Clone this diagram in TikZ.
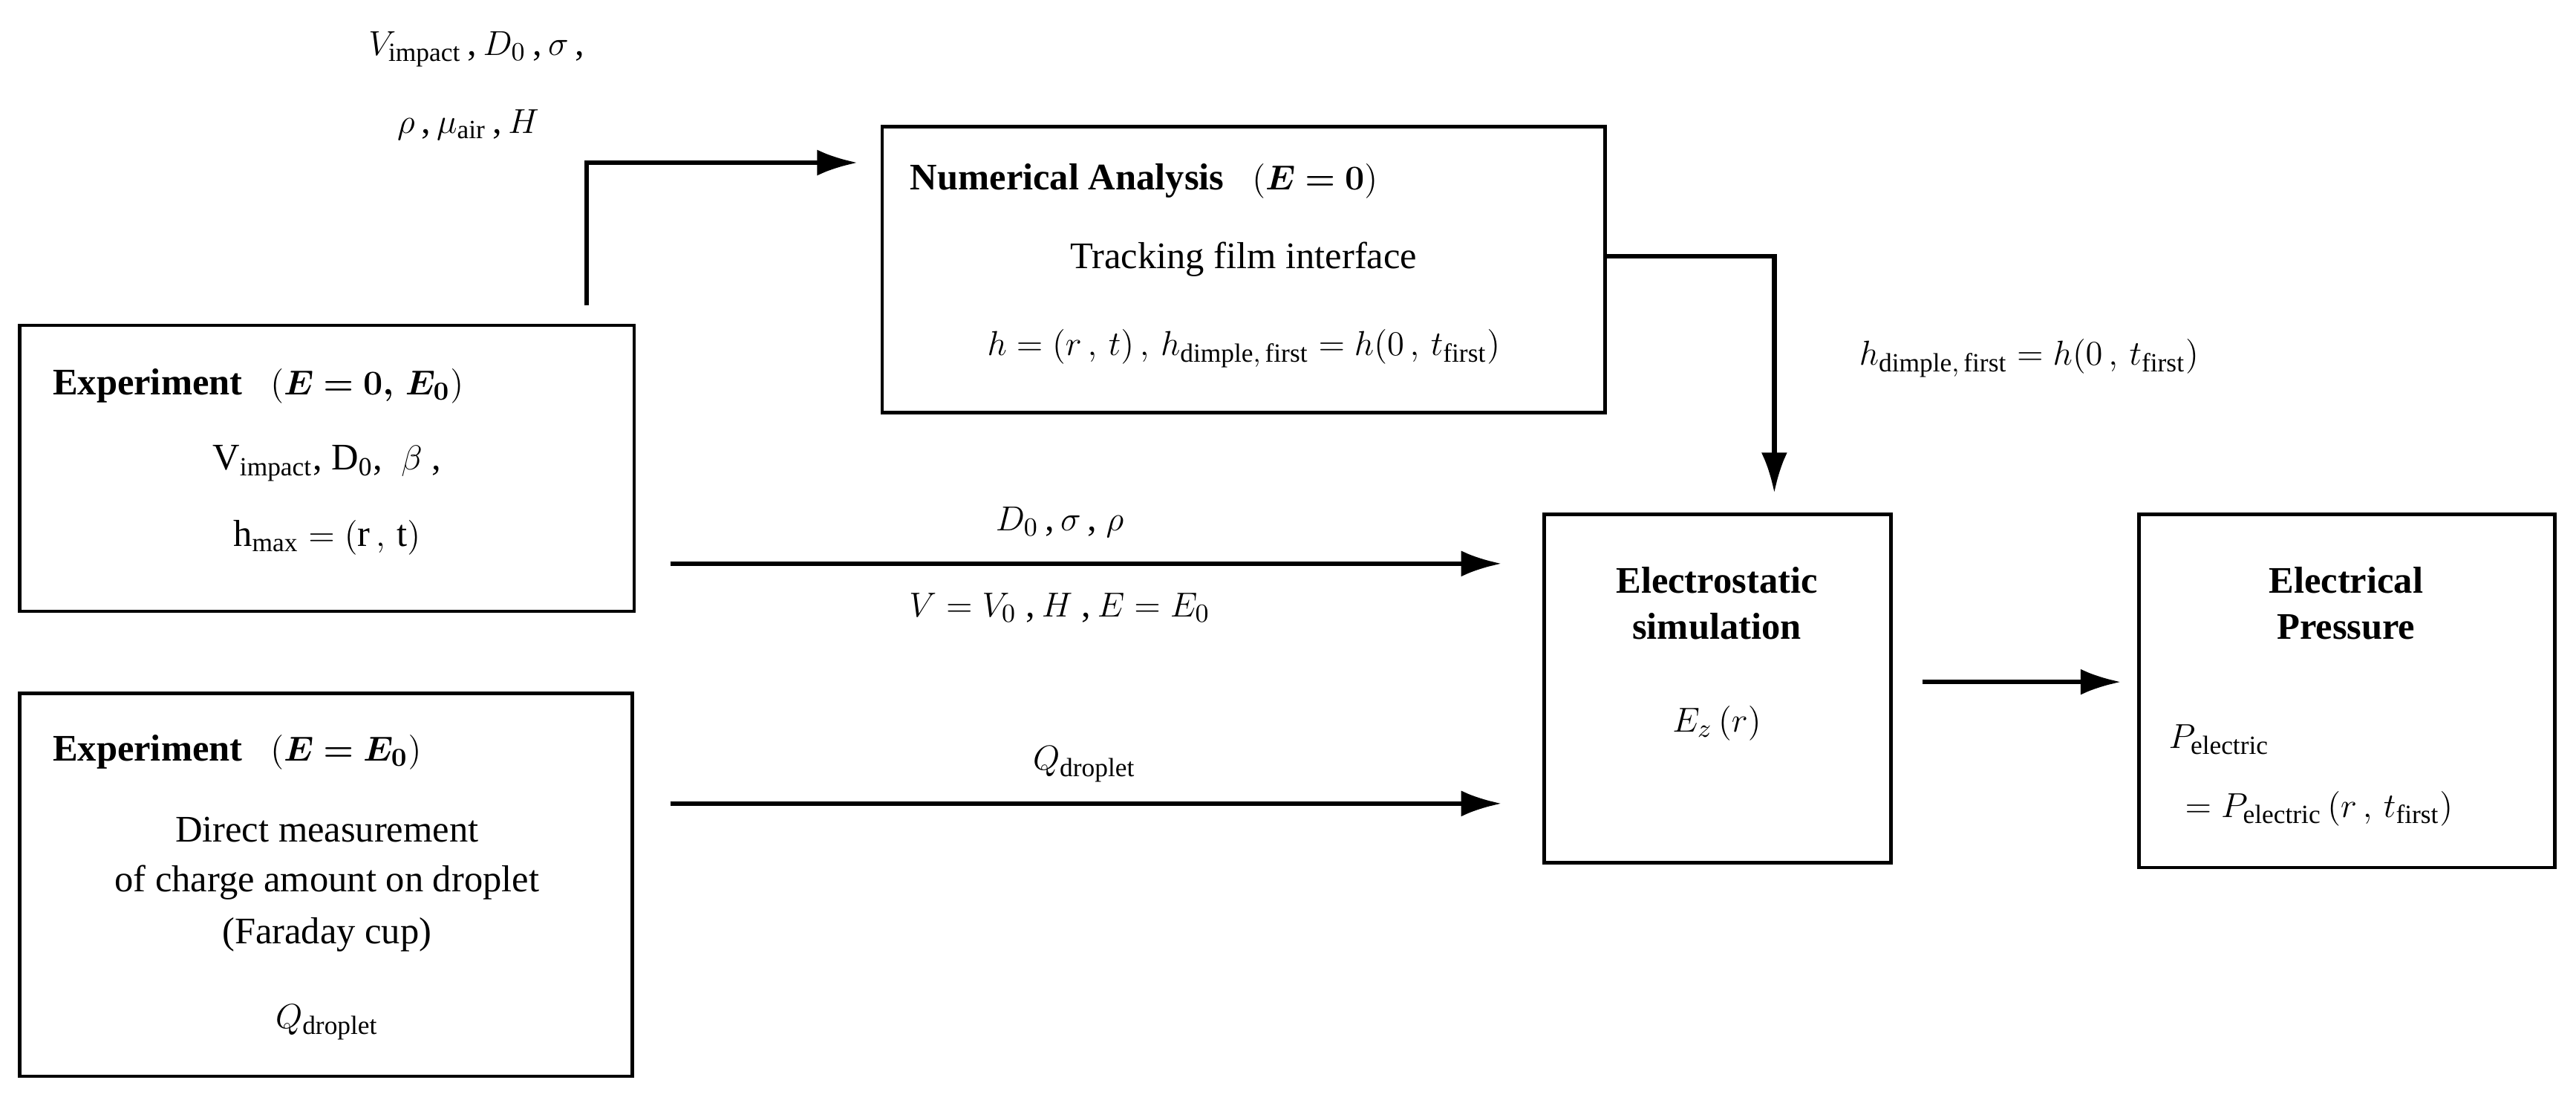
\documentclass[tikz,border=0pt]{standalone}
\usepackage{amsmath}
\usepackage{bm}
\usepackage{fontspec}
\setmainfont{Liberation Serif}
\usetikzlibrary{arrows.meta}
\begin{document}
\begin{tikzpicture}[x=0.02cm,y=-0.02cm,
  box/.style={draw,line width=1.2pt,inner sep=0pt},
  arr/.style={line width=1.6pt,-{Latex[length=14pt,width=9pt]}},
  t/.style={font=\fontsize{13}{16}\selectfont,inner sep=1pt},
  b/.style={font=\fontsize{13}{16}\selectfont\bfseries,inner sep=1pt}]
\useasboundingbox (0,0) rectangle (1568,671);
% boxes
\draw[box] (537,77) rectangle (977,251);
\draw[box] (12,198) rectangle (386,372);
\draw[box] (12,422) rectangle (385,655);
\draw[box] (940,313) rectangle (1151,525);
\draw[box] (1302,313) rectangle (1555,528);
% numerical analysis
\node[b,anchor=west] (na) at (552,110) {Numerical Analysis \ \ $\bm{\left(E=0\right)}$};
\node[t] (na2) at (757,158) {Tracking film interface};
\node[t] (na3) at (757,212) {$h=(r\,,\,t)\,,\,h_{\mathrm{dimple,\,first}}=h(0\,,\,t_{\mathrm{first}})$};
% experiment 1
\node[b,anchor=west] (e1) at (30,235) {Experiment \ \ $\bm{\left(E=0,\,E_0\right)}$};
\node[t] (e1a) at (199,282) {$\mathrm{V_{impact}}$, $\mathrm{D_0}$, \ $\beta$ ,};
\node[t] (e1b) at (199,327) {$\mathrm{h_{max}}=(\mathrm{r}\,,\,\mathrm{t})$};
% experiment 2
\node[b,anchor=west] (e2) at (30,458) {Experiment \ \ $\bm{\left(E=E_0\right)}$};
\node[t] (e2a) at (199,505) {Direct measurement};
\node[t] (e2b) at (199,537) {of charge amount on droplet};
\node[t] (e2c) at (199,569) {(Faraday cup)};
\node[t] (e2d) at (199,622) {$Q_{\mathrm{droplet}}$};
% electrostatic
\node[b,align=center] (es) at (1045,367) {Electrostatic\\simulation};
\node[t] (ez) at (1045,440) {$E_z\,(r)$};
% pressure
\node[b,align=center] (ep) at (1428,367) {Electrical\\Pressure};
\node[t,anchor=west] (p1) at (1318,450) {$P_{\mathrm{electric}}$};
\node[t,anchor=west] (p2) at (1328,492) {$=P_{\mathrm{electric}}\,(r\,,\,t_{\mathrm{first}})$};
% top-left labels
\node[t] (l1) at (290,30) {$V_{\mathrm{impact}}$\,,\,$D_0$\,,\,$\sigma$\,,};
\node[t] (l2) at (285,76) {$\rho$\,,\,$\mu_{\mathrm{air}}$\,,\,$H$};
% connectors
\coordinate (c1) at (357,186); \coordinate (c2) at (357,99); \coordinate (c3) at (522,99);
\draw[arr] (c1) -- (c2) -- (c3);
\coordinate (d1) at (977,156); \coordinate (d2) at (1080,156); \coordinate (d3) at (1080,300);
\draw[arr] (d1) -- (d2) -- (d3);
\node[t] (hl) at (1235,218) {$h_{\mathrm{dimple,\,first}}=h(0\,,\,t_{\mathrm{first}})$};
\coordinate (f1) at (408,343); \coordinate (f2) at (914,343);
\draw[arr] (f1) -- (f2);
\node[t] (fl1) at (645,318) {$D_0$\,,\,$\sigma$\,,\ $\rho$};
\node[t] (fl2) at (645,370) {$V=V_0$\ ,\,$H$\ ,\,$E=E_0$};
\coordinate (g1) at (408,489); \coordinate (g2) at (914,489);
\draw[arr] (g1) -- (g2);
\node[t] (gl) at (660,465) {$Q_{\mathrm{droplet}}$};
\coordinate (k1) at (1170,415); \coordinate (k2) at (1291,415);
\draw[arr] (k1) -- (k2);
\end{tikzpicture}
\end{document}
